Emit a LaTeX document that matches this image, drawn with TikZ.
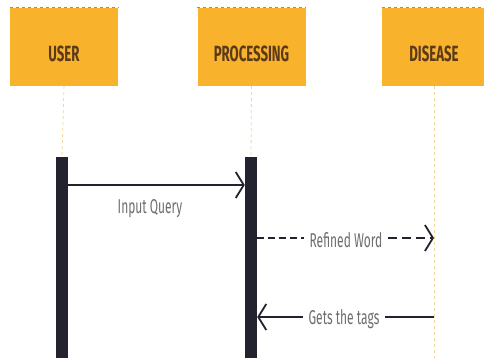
\documentclass[tikz,border=0pt]{standalone}
\usepackage{fontspec}
\setmainfont{Fira Sans}
\usetikzlibrary{arrows.meta}
\definecolor{boxfill}{HTML}{F8B22C}
\definecolor{boxedge}{HTML}{C98A2A}
\definecolor{lifeline}{HTML}{EFD9A0}
\definecolor{barcol}{HTML}{23222F}
\definecolor{txtcol}{HTML}{5A3A1A}
\definecolor{lblcol}{HTML}{6E6E6E}
\tikzset{
  actor/.style={fill=boxfill, draw=none, minimum width=108pt, minimum height=78pt, inner sep=0pt},
  actortext/.style={font=\bfseries\fontsize{22}{22}\selectfont, text=txtcol, inner sep=0pt},
  topedge/.style={draw=boxedge, dashed, line width=1.2pt},
  life/.style={draw=lifeline, dashed, line width=0.8pt},
  actbar/.style={fill=barcol, draw=none, minimum width=12pt, inner sep=0pt},
  msg/.style={draw=barcol, line width=2pt, -{Straight Barb[length=8pt,width=26pt,line width=1.8pt,sep=0pt]}},
  lbl/.style={text=lblcol, font=\fontsize{20}{20}\selectfont, inner sep=5pt}
}
\begin{document}
\begin{tikzpicture}[x=1pt,y=-1pt]
\useasboundingbox[fill=white] (0,0) rectangle (484,358);
% actors
\node[actor] (user) at (64,47) {};
\node[actor] (proc) at (251.5,47) {};
\node[actor, minimum width=104pt] (dis) at (434,47) {};
\node[actortext] (usert) at ([yshift=-7pt]user.center) {\scalebox{0.6}[1]{USER}};
\node[actortext] (proct) at ([yshift=-7pt]proc.center) {\scalebox{0.6}[1]{PROCESSING}};
\node[actortext] (dist) at ([yshift=-7pt]dis.center) {\scalebox{0.6}[1]{DISEASE}};
\draw[topedge] (user.north west) -- (user.north east);
\draw[topedge] (proc.north west) -- (proc.north east);
\draw[topedge] (dis.north west) -- (dis.north east);
% activation bars
\node[actbar, minimum height=201pt, anchor=north] (ubar) at (62,157) {};
\node[actbar, minimum height=201pt, anchor=north] (pbar) at (251,157) {};
% lifelines
\coordinate (dend) at (434,358);
\draw[life] (user.south) -- (ubar.north);
\draw[life] (proc.south) -- (pbar.north);
\draw[life] (dis.south) -- (dend);
% messages
\coordinate (a1s) at (ubar.east |- 0,185);
\coordinate (a1e) at (pbar.west |- 0,185);
\draw[msg] (a1s) -- (a1e);
\node[lbl] (l1) at (150,209) {\scalebox{0.6}[1]{Input Query}};
\coordinate (a2s) at (pbar.east |- 0,238);
\coordinate (a2e) at (434,238);
\node[lbl] (l2) at (346,240) {\scalebox{0.6}[1]{Refined Word}};
\draw[draw=barcol, line width=2pt, dash pattern=on 7pt off 4pt] (a2s) -- (l2.west |- a2s);
\draw[msg, dash pattern=on 9pt off 5pt] (l2.east |- a2e) -- (a2e);
\coordinate (a3s) at (434,317);
\coordinate (a3e) at (pbar.east |- 0,317);
\node[lbl] (l3) at (344,319) {\scalebox{0.6}[1]{Gets the tags}};
\draw[draw=barcol, line width=2pt] (a3s) -- (l3.east |- a3s);
\draw[msg] (l3.west |- a3e) -- (a3e);
\end{tikzpicture}
\end{document}
